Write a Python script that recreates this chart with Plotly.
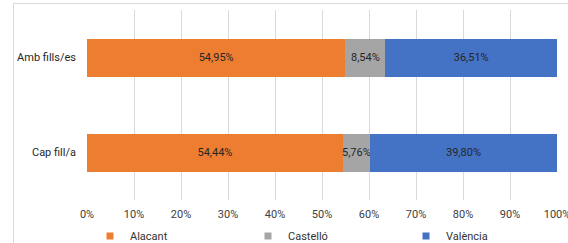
import plotly.graph_objects as go

categories = ["Amb fills/es", "Cap fill/a"]
series_names = ["Alacant", "Castelló", "València"]
alacant = [54.95, 54.44]
castello = [8.54, 5.76]
valencia = [36.51, 39.80]
colors = ["#ED7D31", "#A5A5A5", "#4472C4"]

fig = go.Figure()
for name, vals, col in zip(series_names, [alacant, castello, valencia], colors):
    fig.add_trace(go.Bar(
        y=categories, x=vals, name=name, orientation="h",
        marker=dict(color=col, line=dict(width=0)),
        texttemplate="%{x:.2f}%", textposition="inside", textangle=0,
        insidetextanchor="middle", constraintext="none",
        textfont=dict(family="Roboto", size=11, color="#262626"),
        width=0.4, showlegend=False, legendgroup=name,
    ))
# legend entries with small square swatches
for name, col in zip(series_names, colors):
    fig.add_trace(go.Scatter(
        x=[None], y=[None], mode="markers", name=name, legendgroup=name,
        marker=dict(symbol="square", size=7, color=col), showlegend=True,
    ))

W, H = 568, 243
L, R, T, B = 87, 11, 10, 43
pw, ph = W - L - R, H - T - B

def px2paper_x(px):
    return (px - L) / pw

def px2paper_y(py):
    return 1 - (py - T) / ph

fig.update_layout(
    barmode="stack",
    width=W, height=H,
    margin=dict(l=L, r=R, t=T, b=B, pad=0, autoexpand=False),
    paper_bgcolor="white", plot_bgcolor="white",
    separators=",.",
    font=dict(family="Roboto", size=11, color="#404040"),
    xaxis=dict(range=[0, 100], dtick=10, ticksuffix="%", showgrid=True,
               gridcolor="#D9D9D9", gridwidth=1, zeroline=False, showline=False,
               ticks="", ticklabelstandoff=6, ticklabeloverflow="allow",
               tickfont=dict(size=11, color="#404040"),
               automargin=False, fixedrange=True),
    yaxis=dict(autorange="reversed", showgrid=False, zeroline=False, ticks="",
               ticklabelstandoff=10, automargin=False,
               tickfont=dict(size=11, color="#262626")),
    showlegend=True,
    legend=dict(orientation="h", x=px2paper_x(90), xanchor="left",
                y=px2paper_y(236), yanchor="middle", traceorder="normal",
                entrywidth=113, entrywidthmode="pixels",
                font=dict(size=11, color="#333333"), itemwidth=30,
                bgcolor="rgba(0,0,0,0)"),
    shapes=[dict(type="rect", xref="paper", yref="paper",
                 x0=px2paper_x(13.5), x1=px2paper_x(600),
                 y0=px2paper_y(300), y1=px2paper_y(3.5),
                 line=dict(color="#D9D9D9", width=1), fillcolor="rgba(0,0,0,0)",
                 layer="below")],
)

fig.write_html("out.html", config={"displayModeBar": False},
               post_script="document.body.style.margin='0';document.body.style.overflow='hidden';")
